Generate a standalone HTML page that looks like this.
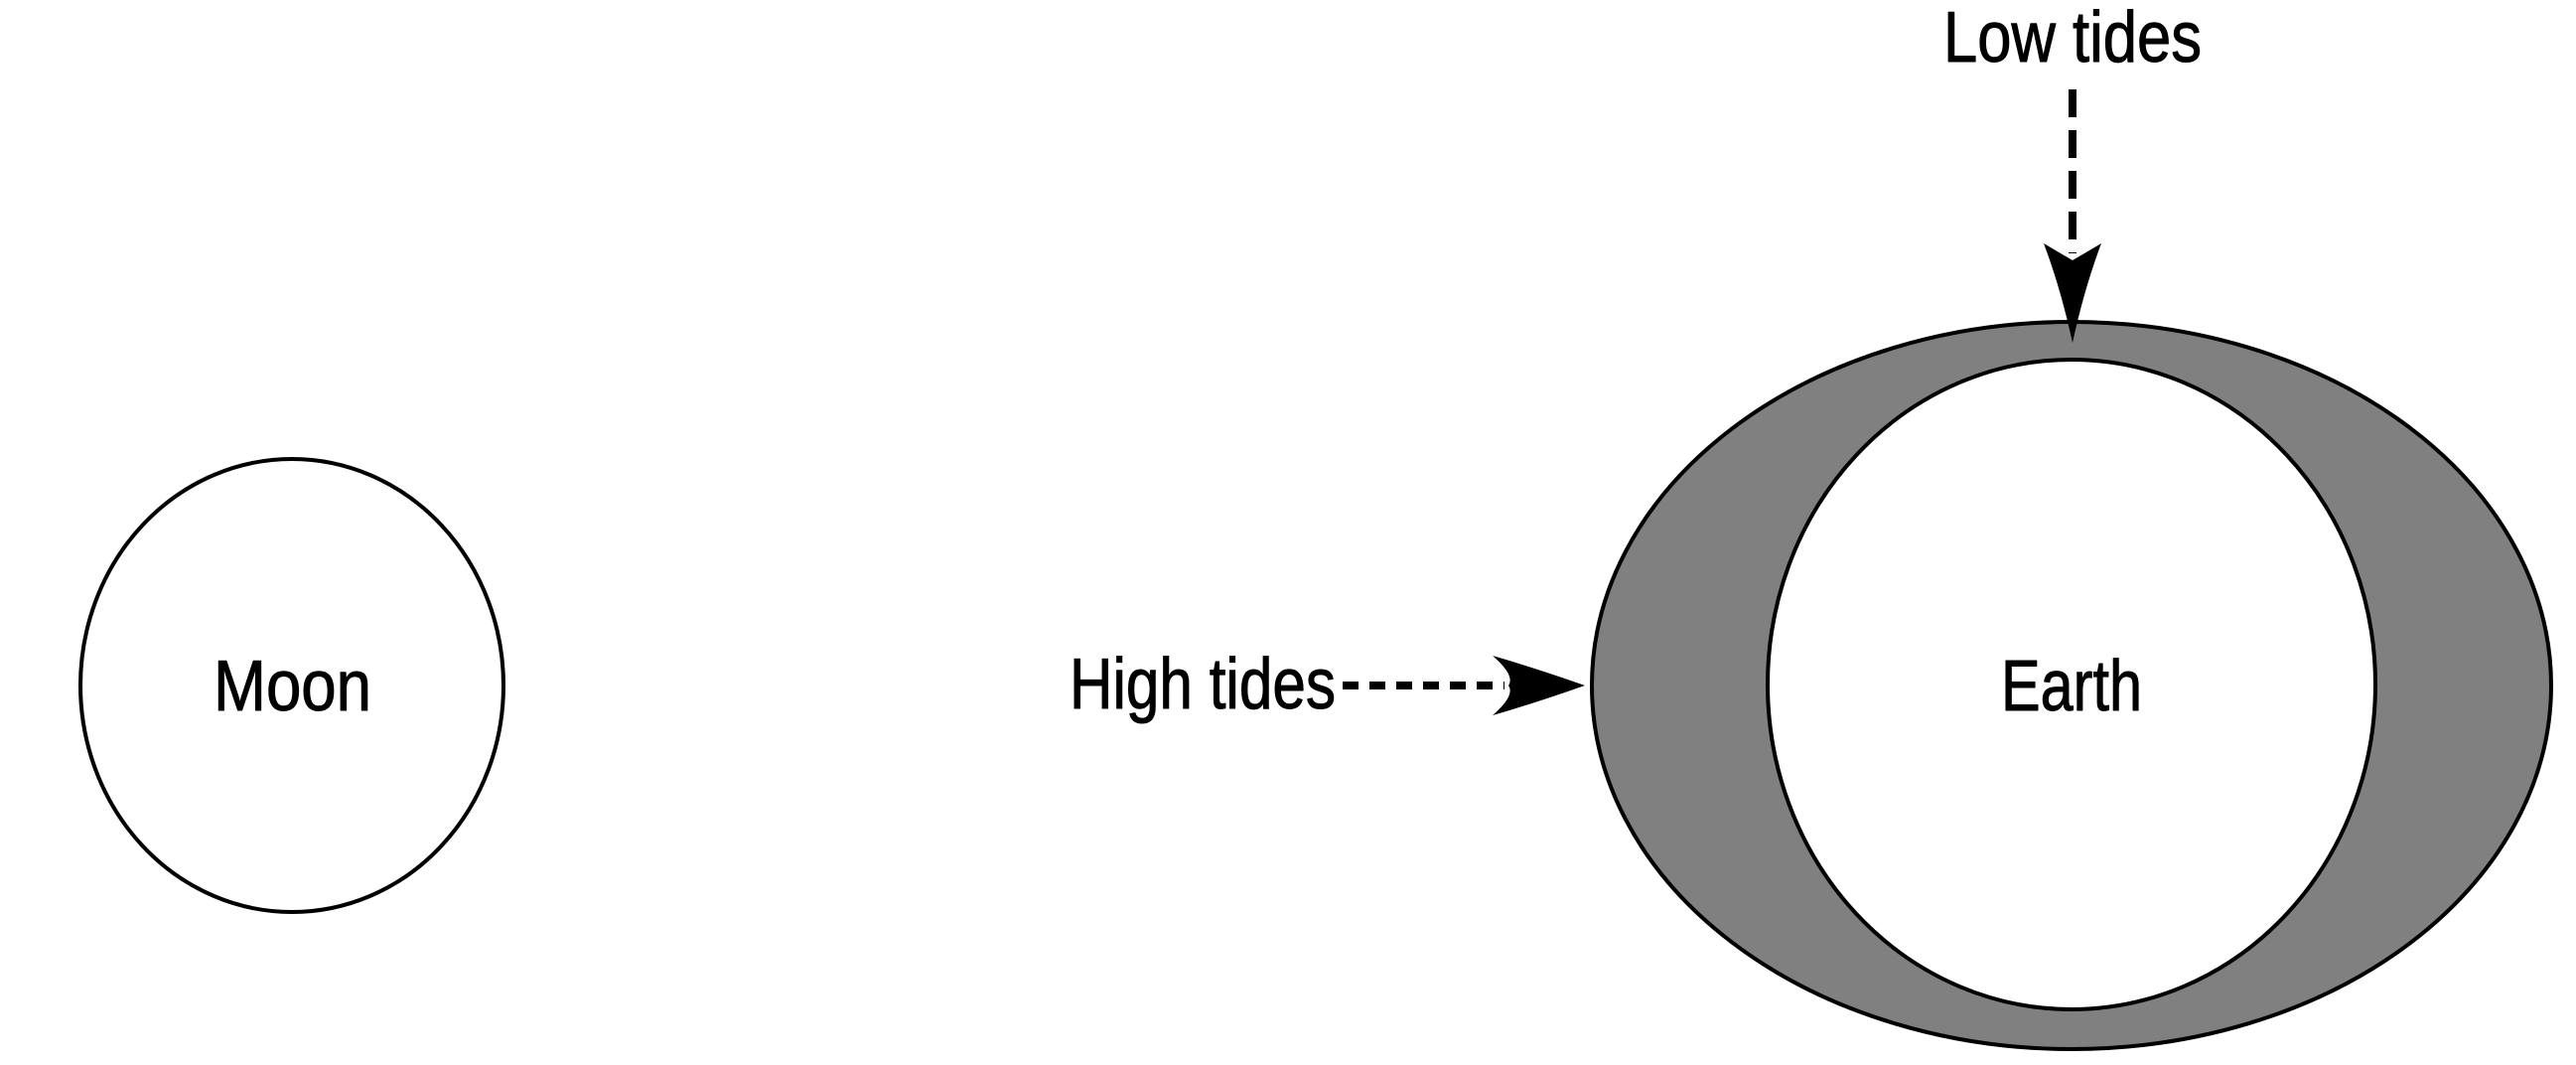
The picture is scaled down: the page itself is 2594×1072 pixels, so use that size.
<!DOCTYPE html>
<html><head><meta charset="utf-8"><style>html,body{margin:0;padding:0;background:#fff}svg{display:block}</style></head>
<body>
<svg width="2594" height="1072" viewBox="0 0 2594 1072" xmlns="http://www.w3.org/2000/svg">
<g font-family="'Liberation Sans Narrow','Liberation Sans',sans-serif" fill="#000" stroke-linejoin="round">
<ellipse cx="294" cy="690" rx="213" ry="228" fill="#fff" stroke="#000" stroke-width="4"/>
<text x="215" y="715" font-size="72" stroke="#000" stroke-width="1" textLength="159" lengthAdjust="spacingAndGlyphs">Moon</text>
<ellipse cx="2086" cy="690" rx="483" ry="366" fill="#808080" stroke="#000" stroke-width="4"/>
<ellipse cx="2086" cy="689" rx="306" ry="327" fill="#fff" stroke="#000" stroke-width="4"/>
<text x="2015" y="715" font-size="72" stroke="#000" stroke-width="1" textLength="142" lengthAdjust="spacingAndGlyphs">Earth</text>
<text x="1077" y="713" font-size="72" stroke="#000" stroke-width="1" textLength="268" lengthAdjust="spacingAndGlyphs">High tides</text>
<line x1="1352" y1="690" x2="1515" y2="690" stroke="#000" stroke-width="8" stroke-dasharray="16,11"/>
<path d="M1596,690 Q1545,672 1503,660 Q1526,680 1519,690 Q1526,700 1503,720 Q1545,708 1596,690 Z"/>
<text x="1957" y="62" font-size="72" stroke="#000" stroke-width="1" textLength="260" lengthAdjust="spacingAndGlyphs">Low tides</text>
<line x1="2087" y1="90" x2="2087" y2="255" stroke="#000" stroke-width="8" stroke-dasharray="28,13"/>
<path d="M2087,345 Q2075,290 2058,245 Q2080,258 2087,262 Q2094,258 2116,245 Q2099,290 2087,345 Z"/>
</g>
</svg>
</body></html>
